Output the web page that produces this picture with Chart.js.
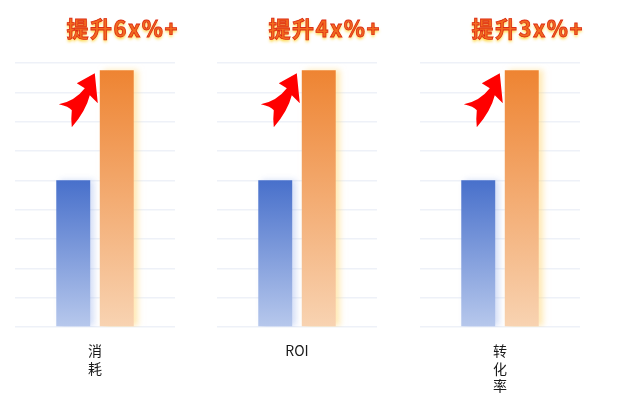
<!DOCTYPE html>
<html>
<head>
<meta charset="utf-8">
<script src="https://cdn.jsdelivr.net/npm/chart.js@4"></script>
<style>
  body { margin: 0; background: #ffffff; width: 640px; height: 401px; overflow: hidden; }
  .box { position: absolute; top: 0; width: 190px; height: 401px; }
</style>
</head>
<body>
<div class="box" style="left:0px"><canvas id="c0" width="190" height="401"></canvas></div>
<div class="box" style="left:202px"><canvas id="c1" width="190" height="401"></canvas></div>
<div class="box" style="left:405px"><canvas id="c2" width="190" height="401"></canvas></div>
<script>
// Data
let categories = [['消', '耗'], ['ROI'], ['转', '化', '率']];
let titles = ['提升6x%+', '提升4x%+', '提升3x%+'];
let beforeValues = [5, 5, 5];
let afterValues = [8.75, 8.75, 8.75];
let yMax = 9;

// vertical gradient for one bar, from its top down to zero line
function barGradient(ctx, top, bottom) {
  let chart = ctx.chart;
  let area = chart.chartArea;
  if (!area) return top;
  let y = chart.scales.y;
  let v = ctx.parsed ? ctx.parsed.y : ctx.raw;
  let g = chart.ctx.createLinearGradient(0, y.getPixelForValue(v), 0, y.getPixelForValue(0));
  g.addColorStop(0, top);
  g.addColorStop(1, bottom);
  return g;
}

// soft glow on right side of bars
let glow = {
  id: 'glow',
  beforeDatasetDraw(chart, args) {
    let ctx = chart.ctx;
    ctx.save();
    ctx.shadowColor = args.index === 0 ? 'rgba(150,175,235,0.4)' : 'rgba(255,215,120,0.55)';
    ctx.shadowBlur = 6;
    ctx.shadowOffsetX = 4;
  },
  afterDatasetDraw(chart) {
    chart.ctx.restore();
  }
};

// title and red arrow, placed from the orange bar
let decor = {
  id: 'decor',
  afterDatasetsDraw(chart, args, opts) {
    let ctx = chart.ctx;
    let bar = chart.getDatasetMeta(1).data[0];
    if (!bar) return;

    // title
    ctx.save();
    ctx.font = 'bold 22px "Noto Sans CJK SC"';
    ctx.letterSpacing = '1.5px';
    ctx.textAlign = 'center';
    ctx.textBaseline = 'middle';
    let tx = bar.x + 6, ty = 29;
    ctx.shadowColor = 'rgba(255,205,20,0.9)';
    ctx.shadowBlur = 3;
    ctx.shadowOffsetY = 2;
    ctx.fillStyle = '#f26a1e';
    ctx.fillText(opts.text, tx, ty);
    ctx.shadowColor = 'transparent';
    ctx.lineWidth = 0.8;
    ctx.strokeStyle = '#dc2a14';
    ctx.strokeText(opts.text, tx, ty);
    ctx.restore();

    // arrow
    let x0 = bar.x - bar.width / 2 - 5;
    let y0 = bar.y + 3;
    ctx.save();
    ctx.translate(x0, y0);
    ctx.fillStyle = '#ff0000';
    ctx.beginPath();
    ctx.moveTo(0, 0);
    ctx.lineTo(-18, 10);
    ctx.lineTo(-10, 15);
    ctx.quadraticCurveTo(-20, 28, -36, 31);
    ctx.quadraticCurveTo(-26, 33, -23, 37);
    ctx.quadraticCurveTo(-24, 46, -23, 54);
    ctx.quadraticCurveTo(-9, 38, -5, 22);
    ctx.lineTo(3, 30);
    ctx.closePath();
    ctx.fill();
    ctx.restore();
  }
};

for (let i = 0; i < categories.length; i++) {
  new Chart(document.getElementById('c' + i), {
    type: 'bar',
    data: {
      labels: [categories[i]],
      datasets: [{
        label: 'before',
        data: [beforeValues[i]],
        backgroundColor: (ctx) => barGradient(ctx, '#4870cb', '#b7c8ec'),
        borderWidth: 0,
        barPercentage: 0.78,
        categoryPercentage: 0.544
      }, {
        label: 'after',
        data: [afterValues[i]],
        backgroundColor: (ctx) => barGradient(ctx, '#ee8432', '#f8d3b2'),
        borderWidth: 0,
        barPercentage: 0.78,
        categoryPercentage: 0.544
      }]
    },
    options: {
      responsive: false,
      animation: false,
      devicePixelRatio: 1,
      layout: { padding: { top: 63, left: 15, right: 15, bottom: 0 } },
      plugins: {
        legend: { display: false },
        tooltip: { enabled: false },
        decor: { text: titles[i] }
      },
      scales: {
        x: {
          grid: { display: false, drawTicks: false },
          border: { display: false },
          ticks: {
            color: '#1a1a1a',
            padding: 15,
            font: { family: '"Noto Sans CJK SC"', size: 14, lineHeight: 1.25 }
          },
          afterFit(scale) { scale.height = 74; }
        },
        y: {
          min: 0,
          max: yMax,
          grid: { color: '#eef1f8', lineWidth: 1.5, drawTicks: false },
          border: { display: false },
          ticks: { display: false, stepSize: 1 }
        }
      }
    },
    plugins: [glow, decor]
  });
}
</script>
</body>
</html>
